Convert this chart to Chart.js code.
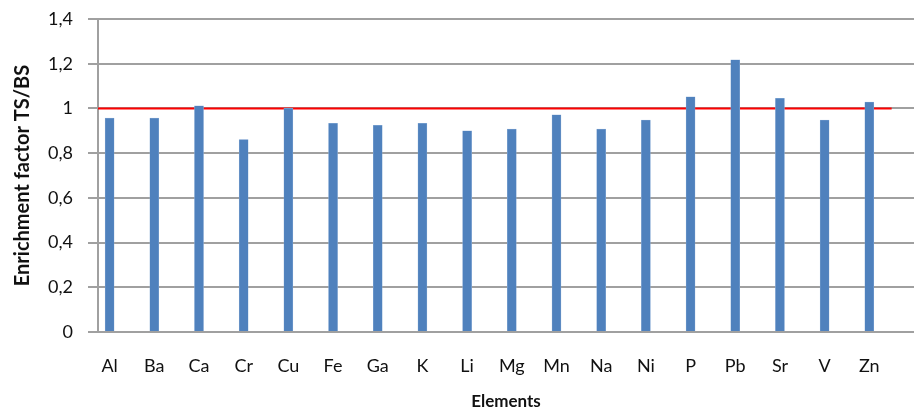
<!DOCTYPE html>
<html>
<head>
<meta charset="utf-8">
<script src="https://cdn.jsdelivr.net/npm/chart.js@4"></script>
<style>
  html, body { margin:0; padding:0; background:#fff; }
  #wrap { width:914px; height:412px; }
</style>
</head>
<body>
<div id="wrap"><canvas id="chart" width="914" height="412"></canvas></div>
<script>
// enrichment factor TS/BS per element
const elements = ['Al','Ba','Ca','Cr','Cu','Fe','Ga','K','Li','Mg','Mn','Na','Ni','P','Pb','Sr','V','Zn'];
const enrichment = [0.957,0.957,1.012,0.861,1.0,0.933,0.924,0.933,0.90,0.908,0.971,0.908,0.948,1.052,1.217,1.045,0.948,1.028];
const refLevel = [1, 1];
const refSpan = [-0.5, 17.5];
const yTicks = [0, 0.2, 0.4, 0.6, 0.8, 1, 1.2, 1.4];

const FONT = 'Lato, "Open Sans", sans-serif';
const GRID = '#a0a0a0';

const ctx = document.getElementById('chart');
new Chart(ctx, {
  data: {
    datasets: [
      {
        type: 'bar',
        data: elements.map((e, i) => ({ x: i, y: enrichment[i] })),
        backgroundColor: '#4f81bd',
        borderColor: '#8fb0d8',
        borderWidth: 0.5,
        barThickness: 9,
        order: 1
      },
      {
        type: 'line',
        data: refSpan.map((x, i) => ({ x: x, y: refLevel[i] })),
        borderColor: '#ff0000',
        borderWidth: 2,
        pointRadius: 0,
        order: 2
      }
    ]
  },
  options: {
    responsive: false,
    animation: false,
    layout: { padding: { top: 19, right: 0, bottom: 0, left: 0 } },
    plugins: { legend: { display: false }, tooltip: { enabled: false } },
    scales: {
      x: {
        type: 'linear',
        offset: false,
        min: -0.26,
        max: 18,
        afterBuildTicks: s => { s.ticks = elements.map((_, i) => ({ value: i })); },
        afterFit: s => { s.height = 80; s.paddingLeft = 0; s.paddingRight = 0; },
        grid: { display: false, drawTicks: false },
        border: { display: true, color: GRID, width: 2 },
        ticks: {
          autoSkip: false,
          maxRotation: 0,
          padding: 23,
          color: '#111',
          font: { family: FONT, size: 18 },
          callback: v => elements[v]
        },
        title: {
          display: true,
          text: 'Elements',
          color: '#111',
          padding: 0,
          font: { family: FONT, size: 17, weight: 'bold' }
        }
      },
      y: {
        min: 0,
        max: 1.4,
        afterBuildTicks: s => { s.ticks = yTicks.map(v => ({ value: v })); },
        afterFit: s => { s.width = 98; s.paddingTop = 0; s.paddingBottom = 0; },
        grid: { color: GRID, lineWidth: 2, tickLength: 10 },
        border: { display: true, color: GRID, width: 2 },
        ticks: {
          padding: 15,
          color: '#111',
          font: { family: FONT, size: 18 },
          callback: v => String(Math.round(v * 10) / 10).replace('.', ',')
        },
        title: {
          display: true,
          text: 'Enrichment factor TS/BS',
          color: '#111',
          padding: { top: 11, bottom: 0 },
          font: { family: FONT, size: 20, weight: 'bold' }
        }
      }
    }
  }
});
</script>
</body>
</html>
